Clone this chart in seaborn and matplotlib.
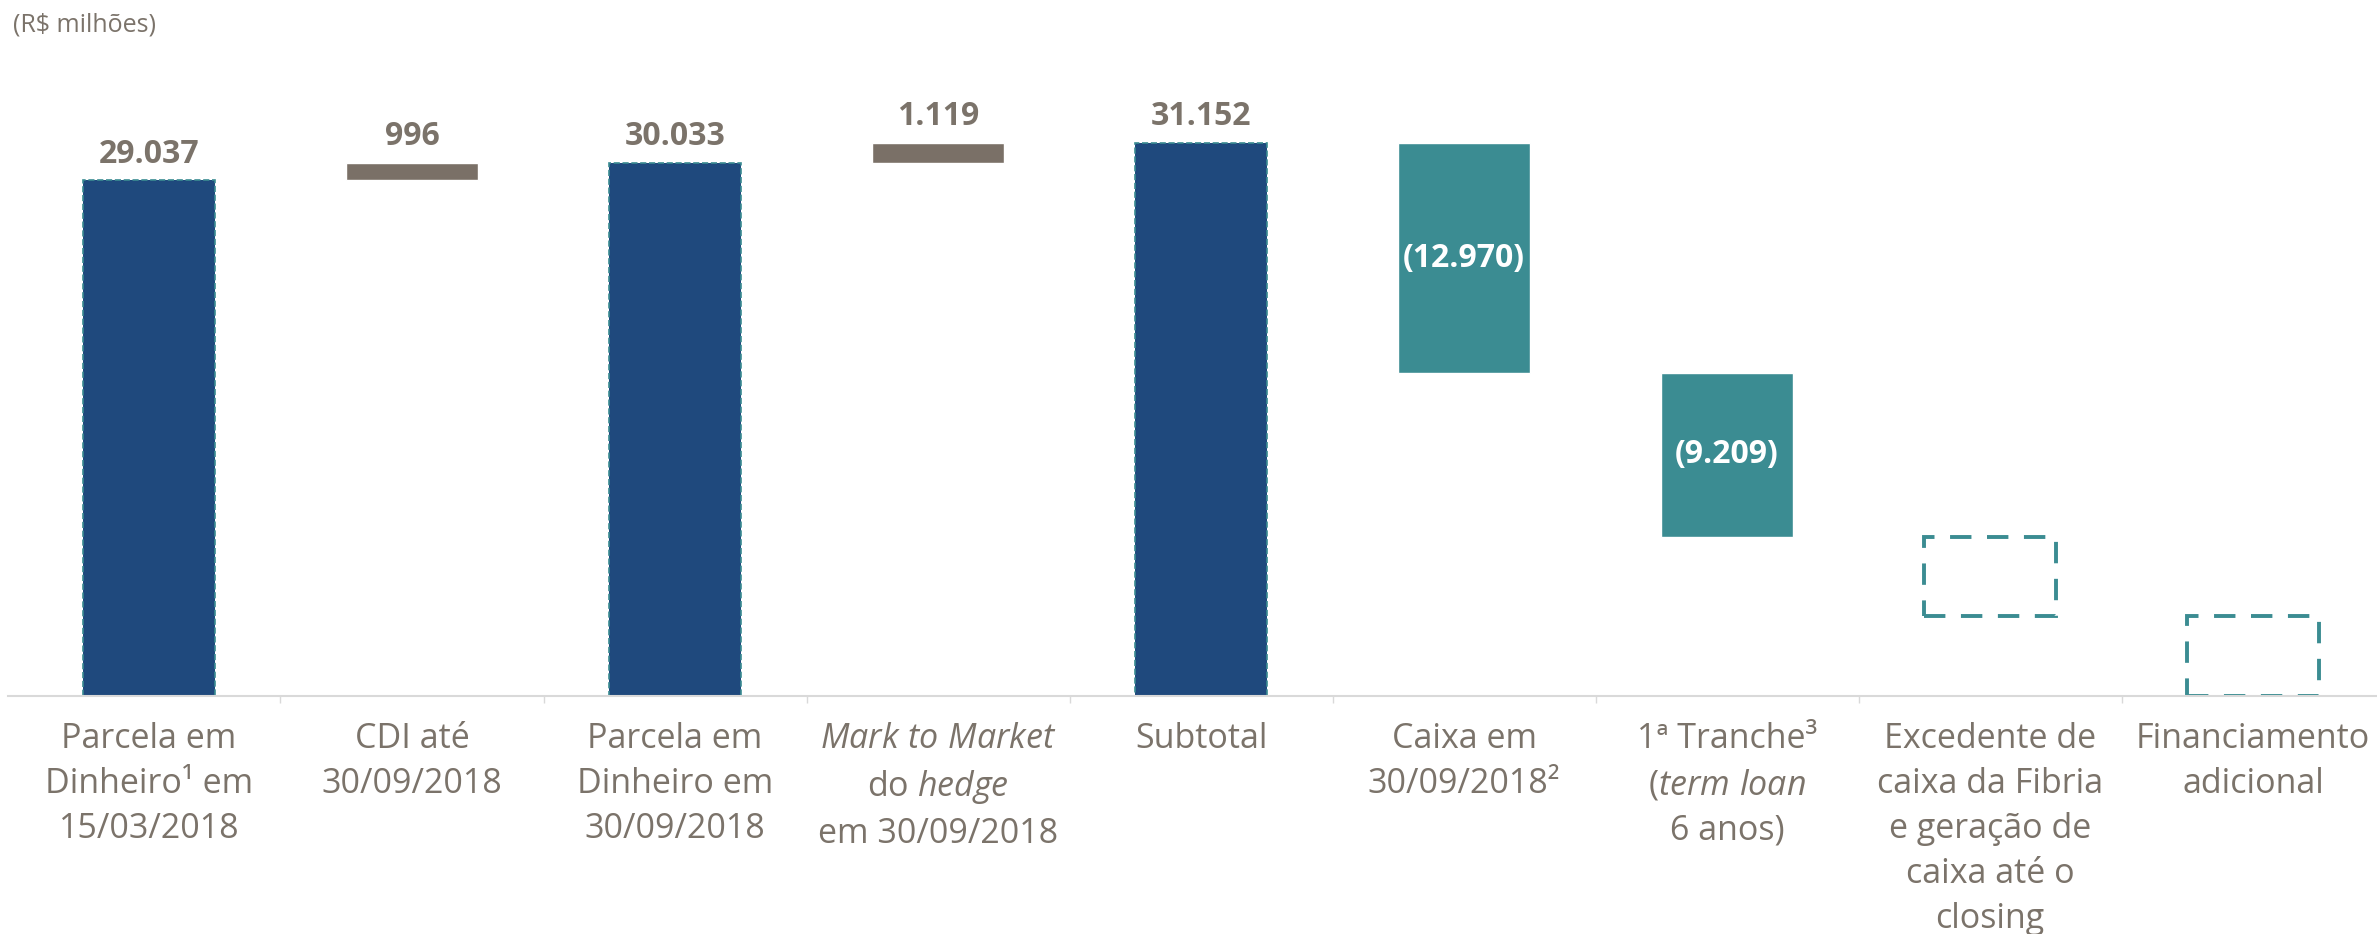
import numpy as np
import pandas as pd
import matplotlib
matplotlib.use("Agg")
import matplotlib.pyplot as plt
import seaborn as sns

# dados (R$ milhões)
categorias = ['p1', 'cdi', 'p2', 'mtm', 'sub', 'caixa', 'tranche', 'exced', 'financ']
rotulos = [
    "Parcela em\nDinheiro¹ em\n15/03/2018",
    "CDI até\n30/09/2018",
    "Parcela em\nDinheiro em\n30/09/2018",
    r"$\mathit{Mark\ to\ Market}$" + "\ndo $\\mathit{hedge}$\nem 30/09/2018",
    "Subtotal",
    "Caixa em\n30/09/2018²",
    "1ª Tranche³\n(" + r"$\mathit{term\ loan}$" + "\n6 anos)",
    "Excedente de\ncaixa da Fibria\ne geração de\ncaixa até o\nclosing",
    "Financiamento\nadicional",
]
tipos = ['total', 'delta', 'total', 'delta', 'total', 'delta', 'delta', 'aberto', 'aberto']
valores = [29037, 996, 30033, 1119, 31152, -12970, -9209, -4490, -4483]

azul = '#1F497D'
cinza = '#7A7067'
verde = '#3B8C92'
texto = '#7B736A'

sns.set_theme(style="white")
plt.rcParams['font.family'] = ['Open Sans', 'DejaVu Sans']
plt.rcParams['mathtext.fontset'] = 'custom'
plt.rcParams['mathtext.rm'] = 'Open Sans'
plt.rcParams['mathtext.it'] = 'Open Sans:italic'
plt.rcParams['mathtext.bf'] = 'Open Sans:bold'

# base / topo de cada barra (cascata)
df = pd.DataFrame({'cat': categorias, 'tipo': tipos, 'valor': valores})
nivel = 0
bases, alturas = [], []
for t, v in zip(tipos, valores):
    if t == 'total':
        bases.append(0)
        alturas.append(v)
        nivel = v
    else:
        novo = nivel + v
        bases.append(min(nivel, novo))
        alturas.append(abs(v))
        nivel = novo
df['base'] = bases
df['altura'] = alturas
df['pos'] = np.arange(len(df))

fig = plt.figure(figsize=(23.77, 9.34), dpi=100)
ax = fig.add_axes([8 / 2377, 1 - 696 / 934, 1 - 8 / 2377, 696 / 934])

tot = df[df.tipo == 'total']
sns.barplot(data=tot, x='cat', y='valor', order=categorias, color=azul, saturation=1,
            width=0.5, edgecolor=verde, linewidth=1.2, linestyle='--', ax=ax)

pos_d = df[(df.tipo == 'delta') & (df.valor > 0)]
ax.bar(pos_d.pos, pos_d.altura, bottom=pos_d.base, width=0.5, color=cinza)

neg_d = df[(df.tipo == 'delta') & (df.valor < 0)]
ax.bar(neg_d.pos, neg_d.altura, bottom=neg_d.base, width=0.5, color=verde)

ab = df[df.tipo == 'aberto']
ax.bar(ab.pos, ab.altura, bottom=ab.base, width=0.5, fill=False, edgecolor=verde,
       linewidth=2.8, linestyle=(0, (5.5, 4)))


def fmt(v):
    s = f"{abs(v):,}".replace(',', '.')
    return f"({s})" if v < 0 else s


for _, r in df.iterrows():
    if r.tipo == 'aberto':
        continue
    if r.valor > 0:
        ax.annotate(fmt(r.valor), (r.pos, r.base + r.altura), xytext=(0, 7),
                    textcoords='offset points', ha='center', va='bottom',
                    fontsize=23, fontweight='bold', color=texto)
    else:
        ax.text(r.pos, r.base + r.altura / 2, fmt(r.valor), ha='center', va='center',
                fontsize=23, fontweight='bold', color='white')

ax.set_xlim(-0.536, 8.471)
ax.set_ylim(0, 39200)
ax.set_xlabel('')
ax.set_ylabel('')
ax.set_yticks([])
ax.set_xticks(range(len(rotulos)))
ax.set_xticklabels(rotulos, fontsize=24.5, color=texto, linespacing=1.42, va='top')
ax.set_xticks(np.arange(len(rotulos) - 1) + 0.5, minor=True)
ax.tick_params(axis='x', which='major', length=0, pad=19)
ax.tick_params(axis='x', which='minor', length=5, color='#D9D9D9', width=1, bottom=True)
sns.despine(ax=ax, left=True)
ax.spines['bottom'].set_color('#D9D9D9')
ax.spines['bottom'].set_linewidth(1.5)

fig.text(13 / 2377, 1 - 12 / 934, "(R$ milhões)", ha='left', va='top', fontsize=18, color=texto)

fig.savefig('out.png', dpi=100)
